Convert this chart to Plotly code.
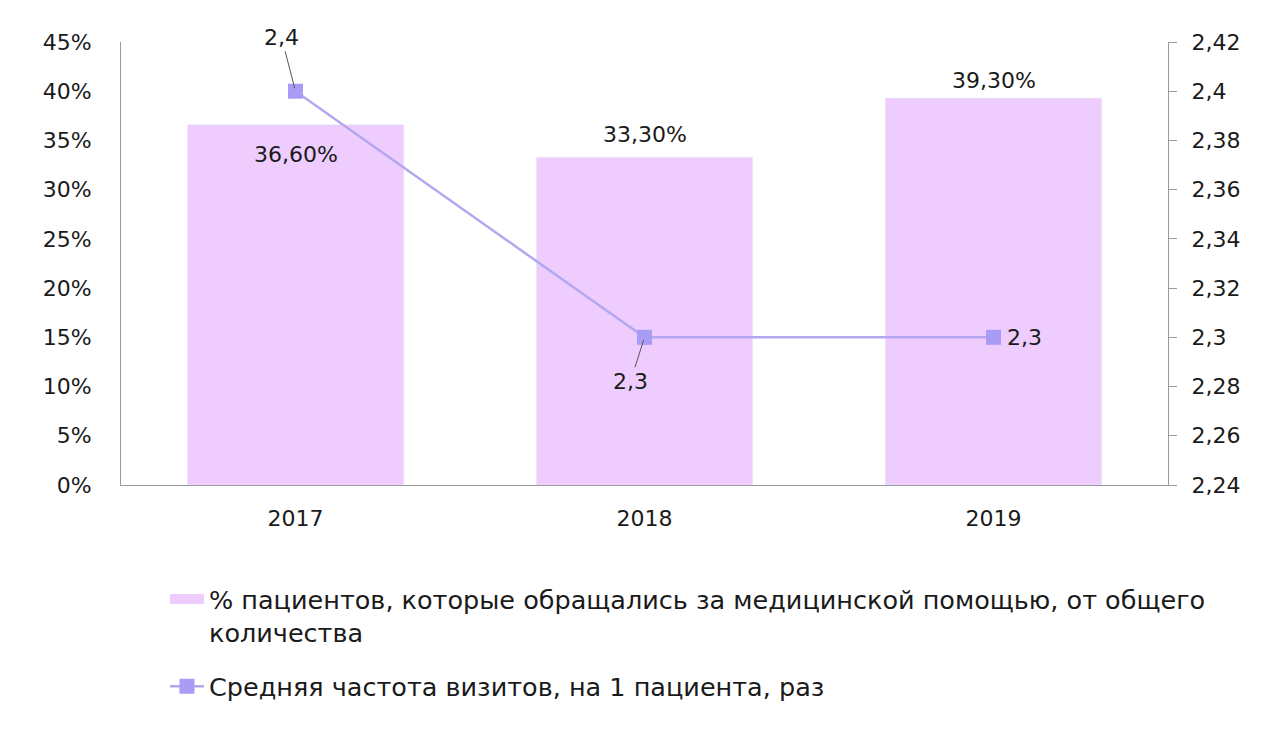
import plotly.graph_objects as go

years = [2017, 2018, 2019]
year_labels = ["2017", "2018", "2019"]
share_pct = [36.6, 33.3, 39.3]
share_labels = ["36,60%", "33,30%", "39,30%"]
visits = [2.4, 2.3, 2.3]
visit_labels = ["2,4", "2,3", "2,3"]
left_ticks = [0, 5, 10, 15, 20, 25, 30, 35, 40, 45]
left_ticktext = ["0%", "5%", "10%", "15%", "20%", "25%", "30%", "35%", "40%", "45%"]
right_ticks = [2.24, 2.26, 2.28, 2.30, 2.32, 2.34, 2.36, 2.38, 2.40, 2.42]
right_ticktext = ["2,24", "2,26", "2,28", "2,3", "2,32", "2,34", "2,36", "2,38", "2,4", "2,42"]

bar_name = "% пациентов, которые обращались за медицинской помощью, от общего<br>количества"
line_name = "Средняя частота визитов, на 1 пациента, раз"

FONT = "DejaVu Sans"
TXT = "#1a1a1a"
BAR_COLOR = "#EECCFE"
LINE_COLOR = "#B3A8F0"
MARK_COLOR = "#A99CF6"

fig = go.Figure()
# legend swatch for the bars (wide rectangle, as in the original)
fig.add_trace(go.Scatter(x=[None], y=[None], mode="lines", name=bar_name,
                         line=dict(color=BAR_COLOR, width=13), legendgroup="a",
                         hoverinfo="skip"))
fig.add_trace(go.Bar(x=years, y=share_pct, name=bar_name, marker_color=BAR_COLOR,
                     width=0.62, yaxis="y", legendgroup="a", showlegend=False))
fig.add_trace(go.Scatter(x=years, y=visits, name=line_name, mode="lines+markers",
                         line=dict(color=LINE_COLOR, width=2.5),
                         marker=dict(symbol="square", size=15, color=MARK_COLOR),
                         yaxis="y2", legendgroup="b"))

# bar labels
bar_shift = [-30, 23, 18]
for x, v, t, s in zip(years, share_pct, share_labels, bar_shift):
    fig.add_annotation(x=x, y=v, text=t, showarrow=False, xref="x", yref="y", yshift=s,
                       font=dict(family=FONT, size=22, color=TXT))

# line labels
line_ax = [-14, -14, 31]
line_ay = [-54, 44, 0]
line_arrow = [True, True, False]
for x, v, t, a, b, arr in zip(years, visits, visit_labels, line_ax, line_ay, line_arrow):
    if arr:
        fig.add_annotation(x=x, y=v, xref="x", yref="y2", text=t, showarrow=True, ax=a, ay=b,
                           arrowhead=0, arrowwidth=1, arrowcolor="#555555", standoff=3,
                           font=dict(family=FONT, size=22, color=TXT))
    else:
        fig.add_annotation(x=x, y=v, xref="x", yref="y2", text=t, showarrow=False, xshift=a,
                           font=dict(family=FONT, size=22, color=TXT))

fig.update_layout(
    width=1280, height=748,
    margin=dict(l=121, r=112, t=42, b=263),
    paper_bgcolor="white", plot_bgcolor="white",
    font=dict(family=FONT, size=22, color=TXT),
    showlegend=True,
    legend=dict(x=0.042, y=-0.205, xanchor="left", yanchor="top", valign="top",
                font=dict(family=FONT, size=25.5, color=TXT),
                tracegroupgap=18, itemwidth=34, bgcolor="rgba(0,0,0,0)"),
    xaxis=dict(type="linear", range=[2016.5, 2019.5], tickvals=years, ticktext=year_labels,
               showline=True, linecolor="#9a9a9a", linewidth=1, ticklabelstandoff=14,
               ticks="", tickfont=dict(size=22), showgrid=False, zeroline=False),
    yaxis=dict(range=[0, 45], tickvals=left_ticks, ticktext=left_ticktext,
               showline=True, linecolor="#9a9a9a", linewidth=1, showgrid=False,
               ticks="", tickfont=dict(size=22), zeroline=False, ticklabelstandoff=24),
    yaxis2=dict(range=[2.24, 2.42], tickvals=right_ticks, ticktext=right_ticktext,
                overlaying="y", side="right", showline=True, linecolor="#9a9a9a",
                linewidth=1, ticks="outside", ticklen=8, tickcolor="#9a9a9a",
                showgrid=False, tickfont=dict(size=22), zeroline=False,
                ticklabelstandoff=10),
)

fig.write_html("out.html")
